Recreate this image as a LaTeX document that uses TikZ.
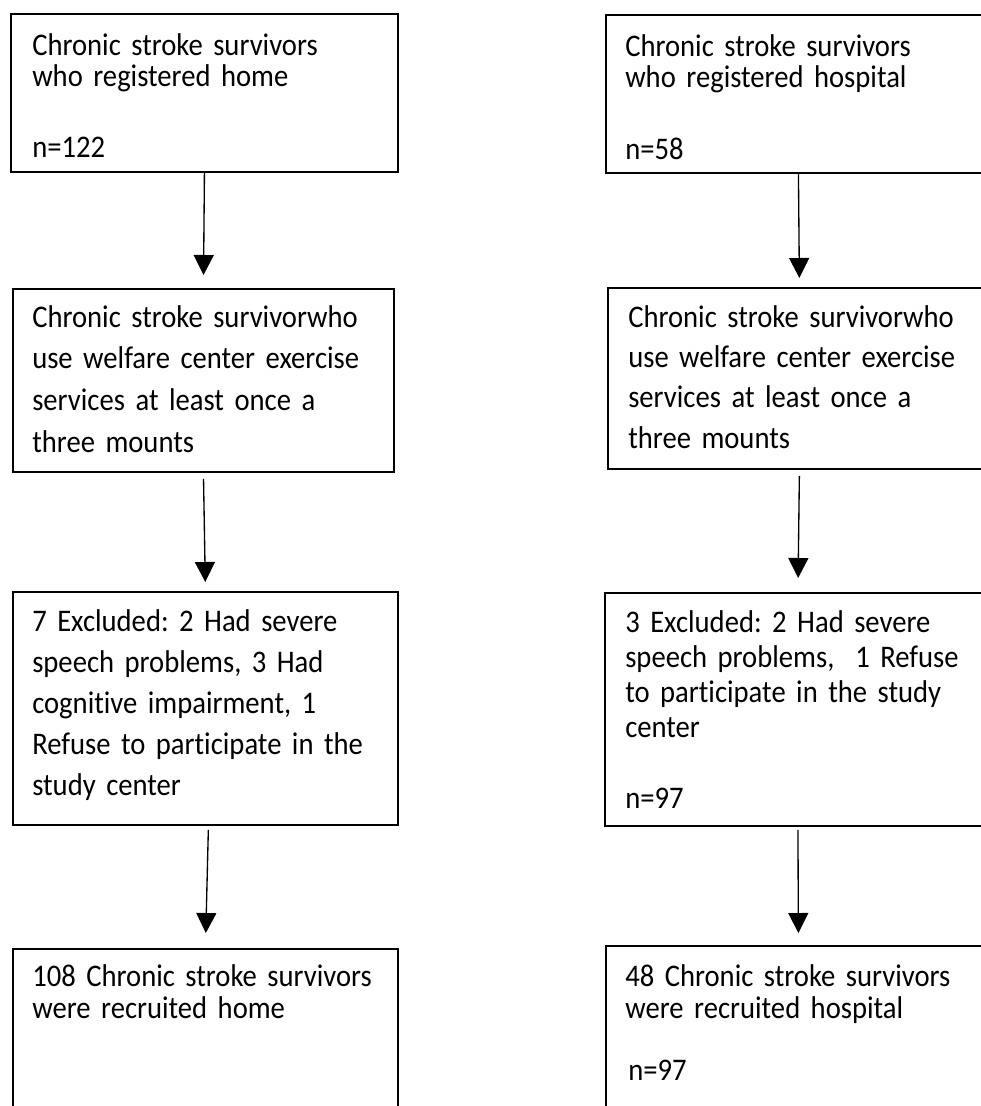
\documentclass[tikz,border=0pt]{standalone}
\usepackage{fontspec}
\setmainfont{Carlito}[Ligatures=NoCommon, FakeStretch=0.91]
\usetikzlibrary{arrows.meta}
\frenchspacing

\tikzset{
  flowbox/.style={draw, line width=1.4pt, rectangle, anchor=north west, inner sep=0pt},
  flowtxt/.style={anchor=base west, inner sep=0pt, text width=275pt, align=left},
  flowarr/.style={-{Triangle[width=15pt,length=15pt]}, line width=1pt},
}

\begin{document}
\begin{tikzpicture}[x=0.75pt,y=-0.75pt]
\path[use as bounding box, clip] (0,0) rectangle (981,1106);

% home column
\node[flowbox, minimum width=290.25pt, minimum height=118.5pt] (H1) at (10,13) {};
\node[flowbox, minimum width=285.75pt, minimum height=137.25pt] (H2) at (12,288) {};
\node[flowbox, minimum width=288.75pt, minimum height=174.75pt] (H3) at (12,591) {};
\node[flowbox, minimum width=288.75pt, minimum height=150pt] (H4) at (12,948) {};

\node[flowtxt, font=\fontsize{23.6pt}{22.5pt}\selectfont] (H1t) at (32,56)
  {Chronic stroke survivors\\who registered home\\[31.5pt]n=122};
\node[flowtxt, font=\fontsize{23.6pt}{31.25pt}\selectfont] (H2t) at (32,327)
  {Chronic stroke survivorwho\\use welfare center exercise\\services at least once a\\three mounts};
\node[flowtxt, font=\fontsize{23.6pt}{30.75pt}\selectfont] (H3t) at (32,631)
  {7 Excluded: 2 Had severe\\speech problems, 3 Had\\cognitive impairment, 1\\Refuse to participate in the\\study center};
\node[flowtxt, font=\fontsize{23.6pt}{24pt}\selectfont] (H4t) at (32,986)
  {108 Chronic stroke survivors\\were recruited home};

% hospital column
\node[flowbox, minimum width=288.75pt, minimum height=118.5pt] (P1) at (605,14) {};
\node[flowbox, minimum width=287.25pt, minimum height=135.75pt] (P2) at (607,287) {};
\node[flowbox, minimum width=289.5pt, minimum height=174.75pt] (P3) at (604,592) {};
\node[flowbox, minimum width=288.75pt, minimum height=150pt] (P4) at (605,945) {};

\node[flowtxt, font=\fontsize{23.6pt}{23.25pt}\selectfont] (P1t) at (625,57)
  {Chronic stroke survivors\\who registered hospital\\[30.75pt]n=58};
\node[flowtxt, font=\fontsize{23.6pt}{30.25pt}\selectfont] (P2t) at (628,327)
  {Chronic stroke survivorwho\\use welfare center exercise\\services at least once a\\three mounts};
\node[flowtxt, font=\fontsize{23.6pt}{26.25pt}\selectfont] (P3t) at (625,632)
  {3 Excluded: 2 Had severe\\speech problems,~ 1 Refuse\\to participate in the study\\center\\[27pt]n=97};
\node[flowtxt, font=\fontsize{23.6pt}{24pt}\selectfont] (P4t) at (625,986)
  {48 Chronic stroke survivors\\were recruited hospital\\[22.5pt]\hspace*{2.25pt}n=97};

% arrows
\draw[flowarr, shorten >=9.75pt] (H1.south) -- (H2.north);
\draw[flowarr, shorten <=4.5pt, shorten >=6.75pt] (H2.south) -- (H3.north);
\draw[flowarr, shorten <=3pt, shorten >=11.25pt] ([xshift=2.25pt]H3.south) -- (H4.north);

\draw[flowarr, shorten >=6.75pt] (P1.south) -- (P2.north);
\draw[flowarr, shorten <=4.5pt, shorten >=10.5pt] (P2.south) -- (P3.north);
\draw[flowarr, shorten <=2.25pt, shorten >=9pt] (P3.south) -- (P4.north);

\end{tikzpicture}
\end{document}
